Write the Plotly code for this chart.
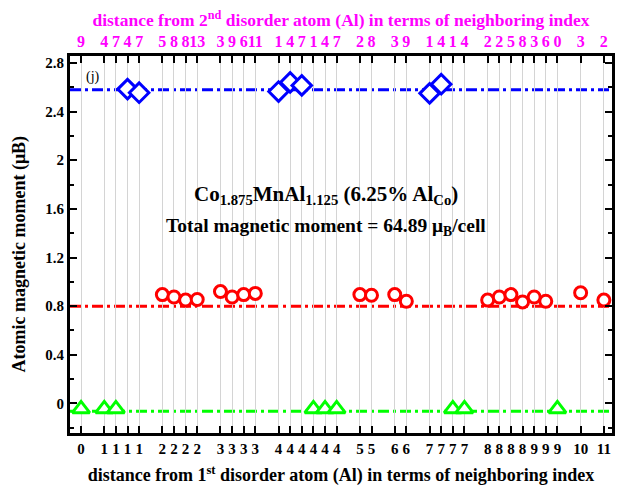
import plotly.graph_objects as go

# ---- data ----
x_pos = [0, 2, 3, 4, 5, 7, 8, 9, 10, 12, 13, 14, 15, 17, 18, 19, 20, 21, 22,
         24, 25, 27, 28, 30, 31, 32, 33, 35, 36, 37, 38, 39, 40, 41, 43, 45]
shell_1st = ["0", "1", "1", "1", "1", "2", "2", "2", "2", "3", "3", "3", "3",
             "4", "4", "4", "4", "4", "4", "5", "5", "6", "6", "7", "7", "7", "7",
             "8", "8", "8", "8", "9", "9", "9", "10", "11"]
shell_2nd = ["9", "4", "7", "4", "7", "5", "8", "8", "13", "3", "9", "6", "11",
             "1", "4", "7", "1", "4", "7", "2", "8", "3", "9", "1", "4", "1", "4",
             "2", "2", "5", "8", "3", "6", "0", "3", "2"]
atom = ["Al", "Al", "Al", "Mn", "Mn", "Co", "Co", "Co", "Co", "Co", "Co", "Co", "Co",
        "Mn", "Mn", "Mn", "Al", "Al", "Al", "Co", "Co", "Co", "Co", "Mn", "Mn", "Al", "Al",
        "Co", "Co", "Co", "Co", "Co", "Co", "Al", "Co", "Co"]
moment = [-0.045, -0.045, -0.045, 2.585, 2.555, 0.895, 0.875, 0.85, 0.855,
          0.92, 0.875, 0.895, 0.905, 2.565, 2.64, 2.615, -0.045, -0.045, -0.045,
          0.895, 0.89, 0.895, 0.84, 2.55, 2.625, -0.045, -0.045,
          0.85, 0.875, 0.895, 0.835, 0.875, 0.84, -0.045, 0.91, 0.85]
species = ["Mn", "Co", "Al"]
ref_level = {"Mn": 2.58, "Co": 0.80, "Al": -0.065}

colors = {"Mn": "#0000FF", "Co": "#FF0000", "Al": "#00FF00"}
symbols = {"Mn": "diamond", "Co": "circle", "Al": "triangle-up"}
sizes = {"Mn": 15, "Co": 12, "Al": 15}

FONT = "Liberation Serif"
xr = [-0.95, 45.7]
yr = [-0.243, 2.857]

fig = go.Figure()

for sp in species:
    fig.add_shape(type="line", xref="paper", x0=0, x1=1, yref="y",
                  y0=ref_level[sp], y1=ref_level[sp], layer="below",
                  line=dict(color=colors[sp], width=3, dash="11px,4px,3px,4px"))

for sp in species:
    xs = [x for x, a in zip(x_pos, atom) if a == sp]
    ys = [m for m, a in zip(moment, atom) if a == sp]
    fig.add_trace(go.Scatter(
        x=xs, y=ys, mode="markers", name=sp, showlegend=False,
        marker=dict(symbol=symbols[sp], size=sizes[sp],
                    color="white", line=dict(color=colors[sp], width=3)),
        cliponaxis=False))

# invisible trace to carry the top axis
fig.add_trace(go.Scatter(x=x_pos, y=moment, xaxis="x2", mode="markers",
                         marker=dict(opacity=0), showlegend=False, hoverinfo="skip"))

fig.update_layout(
    width=621, height=489,
    margin=dict(l=70, r=6, t=56, b=52),
    plot_bgcolor="white", paper_bgcolor="white",
    font=dict(family=FONT, color="black"),
    showlegend=False,
    xaxis=dict(
        range=xr, tickmode="array", tickvals=x_pos, ticktext=shell_1st, tickangle=0,
        ticks="inside", ticklen=7, tickwidth=2, tickcolor="black",
        showline=True, linewidth=3, linecolor="black", mirror=True,
        showgrid=True, gridcolor="#d4d4d4", gridwidth=1, zeroline=False,
        tickfont=dict(family=FONT, size=15, weight="bold"),
        title=dict(text="distance from 1<sup>st</sup> disorder atom (Al) in terms of neighboring index",
                   font=dict(family=FONT, size=18, weight="bold"), standoff=13),
    ),
    xaxis2=dict(
        range=xr, overlaying="x", side="top", tickmode="array",
        tickvals=x_pos, ticktext=shell_2nd, tickangle=0,
        ticks="inside", ticklen=7, tickwidth=2, tickcolor="black",
        showline=True, linewidth=3, linecolor="black",
        showgrid=False, zeroline=False,
        tickfont=dict(family=FONT, size=16, weight="bold", color="#FF00FF"),
        title=dict(text="distance from 2<sup>nd</sup> disorder atom (Al) in terms of neighboring index",
                   font=dict(family=FONT, size=17.5, weight="bold", color="#FF00FF"), standoff=2),
    ),
    yaxis=dict(
        range=yr, tickmode="linear", tick0=0, dtick=0.4,
        ticks="inside", ticklen=7, tickwidth=2, tickcolor="black",
        minor=dict(ticks="inside", ticklen=4, tickwidth=2, tickcolor="black", dtick=0.2, tick0=0),
        showline=True, linewidth=3, linecolor="black", mirror="ticks",
        showgrid=False, zeroline=False,
        tickfont=dict(family=FONT, size=15, weight="bold"),
    ),
)

fig.add_annotation(x=-0.093, y=0.475, xref="paper", yref="paper", showarrow=False,
                   xanchor="center", yanchor="middle",
                   textangle=-90, text="Atomic magnetic moment (μB)",
                   font=dict(family=FONT, size=18, weight="bold"))
fig.add_annotation(x=0.472, y=0.632, xref="paper", yref="paper", showarrow=False,
                   text="Co<sub>1.875</sub>MnAl<sub>1.125</sub> (6.25% Al<sub>Co</sub>)",
                   font=dict(family=FONT, size=21, weight="bold"))
fig.add_annotation(x=0.472, y=0.546, xref="paper", yref="paper", showarrow=False,
                   text="Total magnetic moment = 64.89 μ<sub>B</sub>/cell",
                   font=dict(family=FONT, size=19.5, weight="bold"))
fig.add_annotation(x=0.025, y=0.97, xref="paper", yref="paper", showarrow=False,
                   xanchor="left", text="(j)", font=dict(family=FONT, size=14))

fig.write_html("out.html")
